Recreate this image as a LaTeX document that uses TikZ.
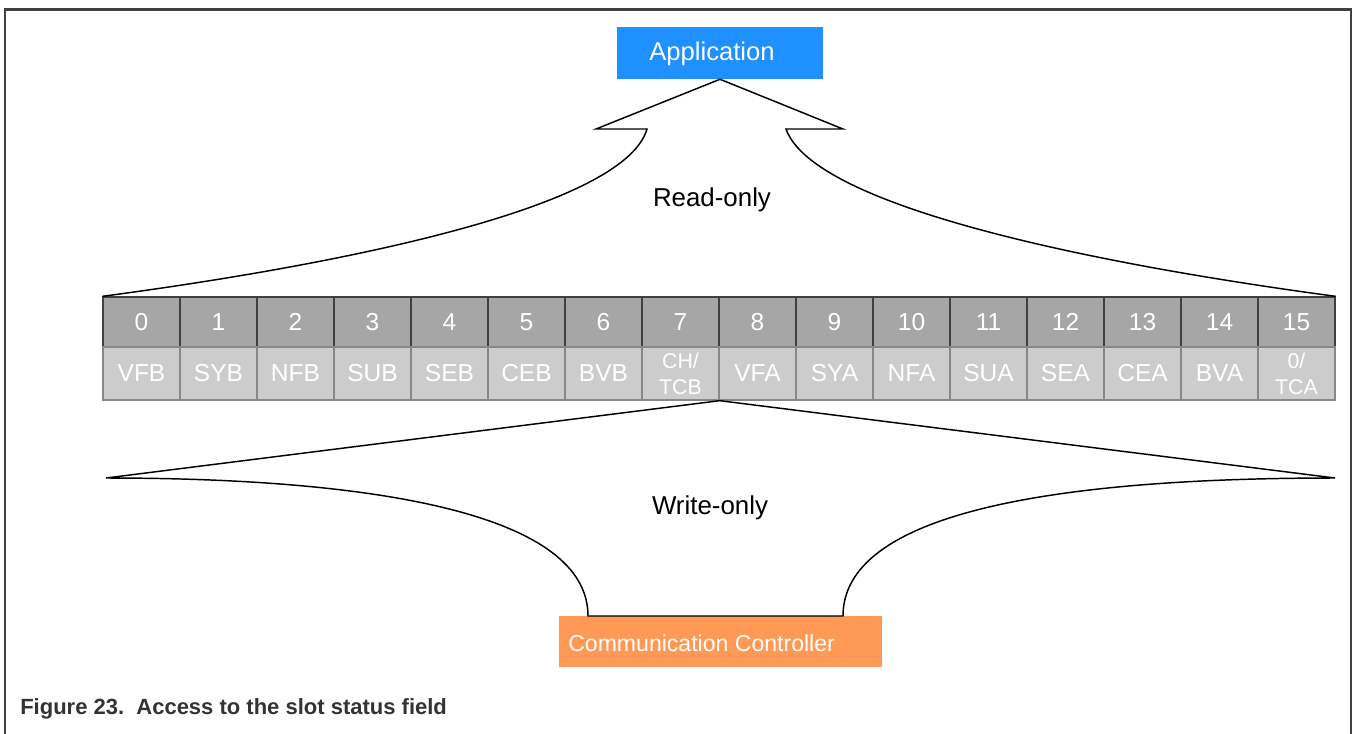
\documentclass[tikz,border=0pt]{standalone}
\usepackage{fontspec}
\setmainfont{Liberation Sans}
\definecolor{appblue}{HTML}{1E90FF}
\definecolor{ccorange}{HTML}{FF9955}
\definecolor{bitgray}{HTML}{A6A6A6}
\definecolor{bitedge}{HTML}{404040}
\definecolor{fldgray}{HTML}{CCCCCC}
\definecolor{fldedge}{HTML}{888888}
\definecolor{framegray}{HTML}{404040}
\definecolor{captext}{HTML}{333333}
\begin{document}
\begin{tikzpicture}[x=0.75pt,y=-0.75pt,
  frameline/.style={draw=framegray,line width=1.9pt},
  appbox/.style={fill=appblue,draw=none,minimum width=154.5pt,minimum height=39pt,inner sep=0pt},
  apptext/.style={text=white,font=\fontsize{19.2pt}{22pt}\selectfont,inner sep=0pt},
  ccbox/.style={fill=ccorange,draw=none,minimum width=242pt,minimum height=38.5pt,inner sep=0pt},
  cctext/.style={text=white,font=\fontsize{17.3pt}{20pt}\selectfont,inner sep=0pt,anchor=west},
  bitcell/.style={fill=bitgray,draw=bitedge,line width=1pt,minimum width=57.75pt,minimum height=37.5pt,inner sep=0pt,text=white,font=\fontsize{18.4pt}{22pt}\selectfont},
  fldcell/.style={fill=fldgray,draw=fldedge,line width=1pt,minimum width=57.75pt,minimum height=39.75pt,inner sep=0pt,text=white,font=\fontsize{18.4pt}{22pt}\selectfont,align=center},
  smallfld/.style={font=\fontsize{16pt}{19.5pt}\selectfont},
  accessline/.style={draw=black,line width=1.1pt,line join=miter},
  accesstext/.style={font=\fontsize{19.4pt}{22pt}\selectfont,inner sep=0pt},
  captionstyle/.style={font=\bfseries\fontsize{16.5pt}{19pt}\selectfont,text=captext,inner sep=0pt,anchor=base west}]
\useasboundingbox (0,0) rectangle (1352,733);

% outer frame (its bottom edge lies below the page)
\draw[frameline] (4.8,740) -- (4.8,9.3) -- (1350.8,9.3) -- (1350.8,740);

% application and controller boxes
\node[appbox] (app) at (720,53) {};
\node[apptext] (applabel) at (712,54) {Application};
\node[ccbox] (cc) at (720.5,641.5) {};
\node[cctext] (cclabel) at (568,643) {Communication Controller};

% slot status field: bit numbers and flag names
\foreach \i in {0,...,15}{
  \node[bitcell] (bit\i) at ({141.5+77*\i},322) {\i};
}
\foreach \lab [count=\j from 0] in {VFB,SYB,NFB,SUB,SEB,CEB,BVB,X,VFA,SYA,NFA,SUA,SEA,CEA,BVA,Y}{
  \ifnum\j=7\relax
    \node[fldcell,smallfld] (fld\j) at ({141.5+77*\j},373.5) {CH/\\TCB};
  \else\ifnum\j=15\relax
    \node[fldcell,smallfld] (fld\j) at ({141.5+77*\j},373.5) {0/\\TCA};
  \else
    \node[fldcell] (fld\j) at ({141.5+77*\j},373.5) {\lab};
  \fi\fi
}

% read-only arrow from the field up to the application
\coordinate (rlin) at (647,129);
\coordinate (rlout) at (596,129);
\coordinate (rrout) at (843,129);
\coordinate (rrin) at (786,129);
\draw[accessline] (bit0.north west) .. controls (360,262) and (625,205) .. (rlin)
  -- (rlout) -- (app.south) -- (rrout) -- (rrin)
  .. controls (813,205) and (1080,262) .. (bit15.north east);
\node[accesstext] (ro) at (712,200) {Read-only};

% write-only arrow from the controller up to the field
\coordinate (wl) at (106,478);
\coordinate (wr) at (1335,478);
\coordinate (wlb) at (588,616);
\coordinate (wrb) at (843,616);
\draw[accessline] (fld7.south east) -- (wl)
  .. controls (380,478) and (588,515) .. (wlb) -- (wrb)
  .. controls (843,515) and (1045,478) .. (wr) -- cycle;
\node[accesstext] (wo) at (710,508) {Write-only};

% caption
\node[captionstyle] (cap) at (20,714) {Figure 23.\ \ Access to the slot status field};
\end{tikzpicture}
\end{document}
